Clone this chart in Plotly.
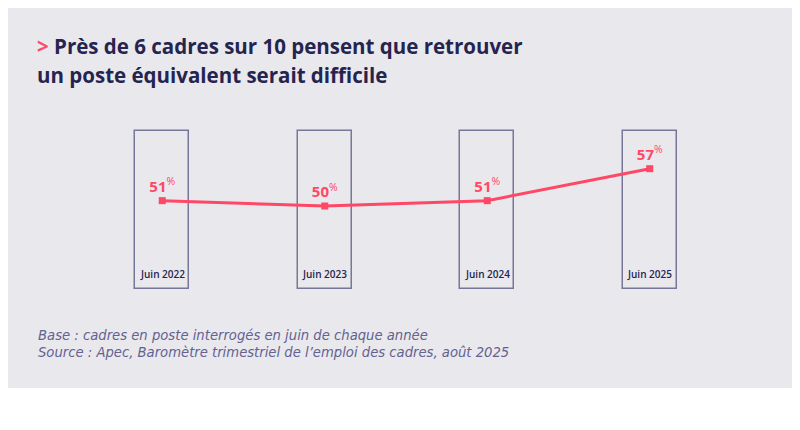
import plotly.graph_objects as go

# Data
periodes = ["Juin 2022", "Juin 2023", "Juin 2024", "Juin 2025"]
valeurs = [51, 50, 51, 57]

titre_l1 = "Près de 6 cadres sur 10 pensent que retrouver"
titre_l2 = "un poste équivalent serait difficile"
base_txt = "Base : cadres en poste interrogés en juin de chaque année"
source_txt = "Source : Apec, Baromètre trimestriel de l’emploi des cadres, août 2025"

navy = "#25244f"
pink = "#ff4766"
frame = "#77779a"
grey_bg = "#e9e8ed"

# vertical extent of the frames (in % units)
cadre_bas, cadre_haut = 34.4, 64.1

# page has an 8px body margin, so everything is placed 8px up/left
W, H = 800, 430
ml, mr, mt, mb = 73, 77, 117, 143
pw, ph = W - ml - mr, H - mt - mb


def px_x(p):
    return (p - ml) / pw


def px_y(p):
    return (H - mb - p) / ph


fig = go.Figure()

# frames around each period
fig.add_trace(go.Bar(
    x=periodes,
    y=[cadre_haut - cadre_bas] * len(periodes),
    base=cadre_bas,
    width=0.33,
    marker=dict(color="rgba(0,0,0,0)", line=dict(color=frame, width=1.5)),
    hoverinfo="skip",
    showlegend=False,
))

fig.add_trace(go.Scatter(
    x=periodes,
    y=valeurs,
    mode="lines+markers+text",
    line=dict(color=pink, width=3),
    marker=dict(symbol="square", size=7, color=pink),
    text=[f"<b>{v}</b><sup>%</sup>" for v in valeurs],
    textposition="top center",
    textfont=dict(family="Open Sans", size=15, color=pink),
    showlegend=False,
))

# period labels at the bottom of each frame
for p in periodes:
    fig.add_annotation(
        x=p, y=cadre_bas, xref="x", yref="y",
        text=p, showarrow=False,
        yanchor="bottom", yshift=6,
        font=dict(family="Open Sans", size=10, color=navy, weight=600),
    )

# title
fig.add_annotation(
    x=px_x(27), y=px_y(38), xref="paper", yref="paper",
    xanchor="left", yanchor="middle", showarrow=False,
    text=f"<span style='color:{pink}'>></span> {titre_l1}",
    font=dict(family="Open Sans", size=20.5, color=navy, weight="bold"),
)
fig.add_annotation(
    x=px_x(27), y=px_y(67), xref="paper", yref="paper",
    xanchor="left", yanchor="middle", showarrow=False,
    text=titre_l2,
    font=dict(family="Open Sans", size=20.5, color=navy, weight="bold"),
)

# footnotes
for txt, yy in [(base_txt, 327), (source_txt, 344)]:
    fig.add_annotation(
        x=px_x(28), y=px_y(yy), xref="paper", yref="paper",
        xanchor="left", yanchor="middle", showarrow=False,
        text=f"<i>{txt}</i>",
        font=dict(family="DejaVu Sans", size=13.2, color="#636290", weight=300),
    )

# grey background panel
fig.add_shape(
    type="rect", xref="paper", yref="paper",
    x0=px_x(0), x1=px_x(W), y0=px_y(380), y1=px_y(0),
    fillcolor=grey_bg, line=dict(width=0), layer="below",
)

fig.update_layout(
    width=W, height=H,
    margin=dict(l=ml, r=mr, t=mt, b=mb),
    paper_bgcolor="white",
    plot_bgcolor="rgba(0,0,0,0)",
    xaxis=dict(range=[-0.5, 3.5], visible=False, fixedrange=True),
    yaxis=dict(range=[33.3, 65.2], visible=False, fixedrange=True),
    bargap=0,
)

fig.write_html("out.html")
